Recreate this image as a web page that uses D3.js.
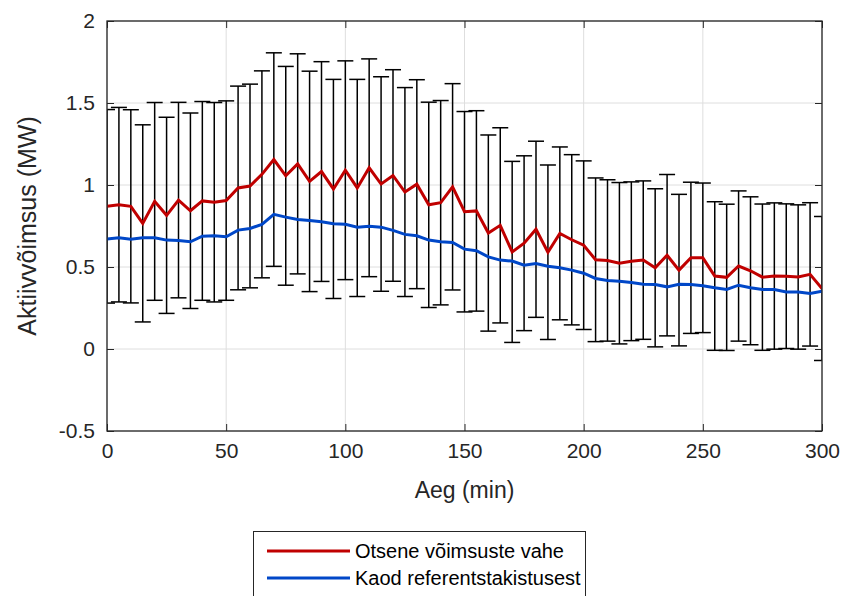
<!DOCTYPE html>
<html>
<head>
<meta charset="utf-8">
<script src="https://cdn.jsdelivr.net/npm/d3@7"></script>
<style>
  body { margin: 0; background: #fff; }
  svg { display: block; font-family: Arial, "Liberation Sans", Helvetica, sans-serif; }
</style>
</head>
<body>
<svg id="chart" width="843" height="596"></svg>
<script>
// ---- data ----
const timeMin = d3.range(0, 301, 5);
const directDiff = [0.870,0.880,0.870,0.766,0.900,0.815,0.908,0.843,0.903,0.895,0.905,0.982,0.994,1.065,1.155,1.056,1.129,1.022,1.082,0.976,1.090,0.982,1.105,1.006,1.058,0.957,1.005,0.879,0.892,0.989,0.837,0.842,0.707,0.754,0.592,0.645,0.730,0.590,0.705,0.666,0.633,0.544,0.540,0.523,0.535,0.542,0.495,0.572,0.481,0.556,0.556,0.445,0.437,0.506,0.477,0.438,0.445,0.444,0.439,0.455,0.369];
const directErr = [0.590,0.593,0.589,0.601,0.603,0.598,0.596,0.596,0.606,0.608,0.608,0.621,0.621,0.631,0.651,0.667,0.671,0.672,0.670,0.668,0.667,0.662,0.664,0.654,0.645,0.637,0.637,0.626,0.623,0.629,0.611,0.611,0.598,0.595,0.552,0.533,0.537,0.532,0.527,0.519,0.514,0.499,0.492,0.492,0.484,0.483,0.482,0.492,0.462,0.461,0.456,0.453,0.446,0.458,0.451,0.446,0.446,0.441,0.440,0.437,0.439];
const refLoss = [0.670,0.678,0.670,0.678,0.678,0.664,0.662,0.654,0.688,0.690,0.684,0.725,0.735,0.760,0.821,0.804,0.790,0.784,0.776,0.764,0.760,0.743,0.749,0.743,0.723,0.699,0.690,0.664,0.654,0.650,0.609,0.599,0.562,0.542,0.536,0.511,0.521,0.505,0.495,0.481,0.462,0.430,0.418,0.413,0.405,0.395,0.393,0.379,0.395,0.393,0.385,0.373,0.363,0.389,0.373,0.363,0.363,0.348,0.348,0.338,0.352];
const xTicks = [0, 50, 100, 150, 200, 250, 300];
const yTicks = [-0.5, 0, 0.5, 1, 1.5, 2];
const yTickLabels = ["-0.5", "0", "0.5", "1", "1.5", "2"];
const seriesNames = ["Otsene võimsuste vahe", "Kaod referentstakistusest"];
const seriesColors = ["#c00000", "#0047c8"];
const xLabel = "Aeg (min)";
const yLabel = "Aktiivvõimsus (MW)";

// ---- layout ----
const svg = d3.select("#chart");
const L = 107, R = 822, T = 21, B = 431;
const x = d3.scaleLinear().domain([0, 300]).range([L, R]);
const y = d3.scaleLinear().domain([-0.5, 2]).range([B, T]);
const axisColor = "#262626";
const tickFont = 21;

svg.append("defs").append("clipPath").attr("id", "plotclip")
  .append("rect").attr("x", L).attr("y", T).attr("width", R - L).attr("height", B - T);

// grid
const grid = svg.append("g");
grid.selectAll("line.gx").data(xTicks).join("line")
  .attr("x1", d => x(d)).attr("x2", d => x(d)).attr("y1", T).attr("y2", B)
  .attr("stroke", "#dedede").attr("stroke-width", 1);
grid.selectAll("line.gy").data(yTicks).join("line")
  .attr("y1", d => y(d)).attr("y2", d => y(d)).attr("x1", L).attr("x2", R)
  .attr("stroke", "#dedede").attr("stroke-width", 1);

// plot content
const plot = svg.append("g").attr("clip-path", "url(#plotclip)");
const cap = 8;
const eb = plot.append("g").attr("stroke", "#000").attr("stroke-width", 1.5).attr("fill", "none");
timeMin.forEach((t, i) => {
  const lo = directDiff[i] - directErr[i], hi = directDiff[i] + directErr[i];
  eb.append("line").attr("x1", x(t)).attr("x2", x(t)).attr("y1", y(lo)).attr("y2", y(hi));
  eb.append("line").attr("x1", x(t) - cap).attr("x2", x(t) + cap).attr("y1", y(lo)).attr("y2", y(lo));
  eb.append("line").attr("x1", x(t) - cap).attr("x2", x(t) + cap).attr("y1", y(hi)).attr("y2", y(hi));
});

const line = d3.line().x(d => x(d[0])).y(d => y(d[1]));
plot.append("path").datum(timeMin.map((t, i) => [t, directDiff[i]]))
  .attr("d", line).attr("fill", "none").attr("stroke", seriesColors[0]).attr("stroke-width", 3).attr("stroke-linejoin", "miter");
plot.append("path").datum(timeMin.map((t, i) => [t, refLoss[i]]))
  .attr("d", line).attr("fill", "none").attr("stroke", seriesColors[1]).attr("stroke-width", 3).attr("stroke-linejoin", "miter");

// axes
const tl = 7;
const xAxisB = d3.axisBottom(x).tickValues(xTicks).tickSizeInner(-tl).tickSizeOuter(0).tickPadding(12);
const xAxisT = d3.axisTop(x).tickValues(xTicks).tickSizeInner(-tl).tickSizeOuter(0).tickFormat("");
const yAxisL = d3.axisLeft(y).tickValues(yTicks).tickSizeInner(-tl).tickSizeOuter(0).tickPadding(12)
  .tickFormat((d, i) => yTickLabels[i]);
const yAxisR = d3.axisRight(y).tickValues(yTicks).tickSizeInner(-tl).tickSizeOuter(0).tickFormat("");

function style(g) {
  g.select(".domain").remove();
  g.selectAll("line").attr("stroke", axisColor).attr("stroke-width", 1);
  g.selectAll("text").attr("fill", axisColor).style("font-size", tickFont + "px")
    .style("font-family", "Arial, 'Liberation Sans', sans-serif");
}
svg.append("g").attr("transform", `translate(0,${B})`).call(xAxisB).call(style);
svg.append("g").attr("transform", `translate(0,${T})`).call(xAxisT).call(style);
svg.append("g").attr("transform", `translate(${L},0)`).call(yAxisL).call(style);
svg.append("g").attr("transform", `translate(${R},0)`).call(yAxisR).call(style);

// box
svg.append("rect").attr("x", L).attr("y", T).attr("width", R - L).attr("height", B - T)
  .attr("fill", "none").attr("stroke", axisColor).attr("stroke-width", 1.3);

// axis labels
svg.append("text").attr("x", (L + R) / 2).attr("y", 498).attr("text-anchor", "middle")
  .attr("fill", axisColor).style("font-size", "23px").text(xLabel);
svg.append("text").attr("transform", `translate(36,${(T + B) / 2}) rotate(-90)`).attr("text-anchor", "middle")
  .attr("fill", axisColor).style("font-size", "25px").text(yLabel);

// legend
const lg = svg.append("g");
lg.append("rect").attr("x", 253.5).attr("y", 531.5).attr("width", 332).attr("height", 80)
  .attr("fill", "#fff").attr("stroke", axisColor).attr("stroke-width", 1);
seriesNames.forEach((name, i) => {
  const ly = 551 + i * 27;
  lg.append("line").attr("x1", 267).attr("x2", 350).attr("y1", ly).attr("y2", ly)
    .attr("stroke", seriesColors[i]).attr("stroke-width", 3);
  lg.append("text").attr("x", 355).attr("y", ly + 7).attr("fill", "#000")
    .style("font-size", "20px").text(name);
});
</script>
</body>
</html>
